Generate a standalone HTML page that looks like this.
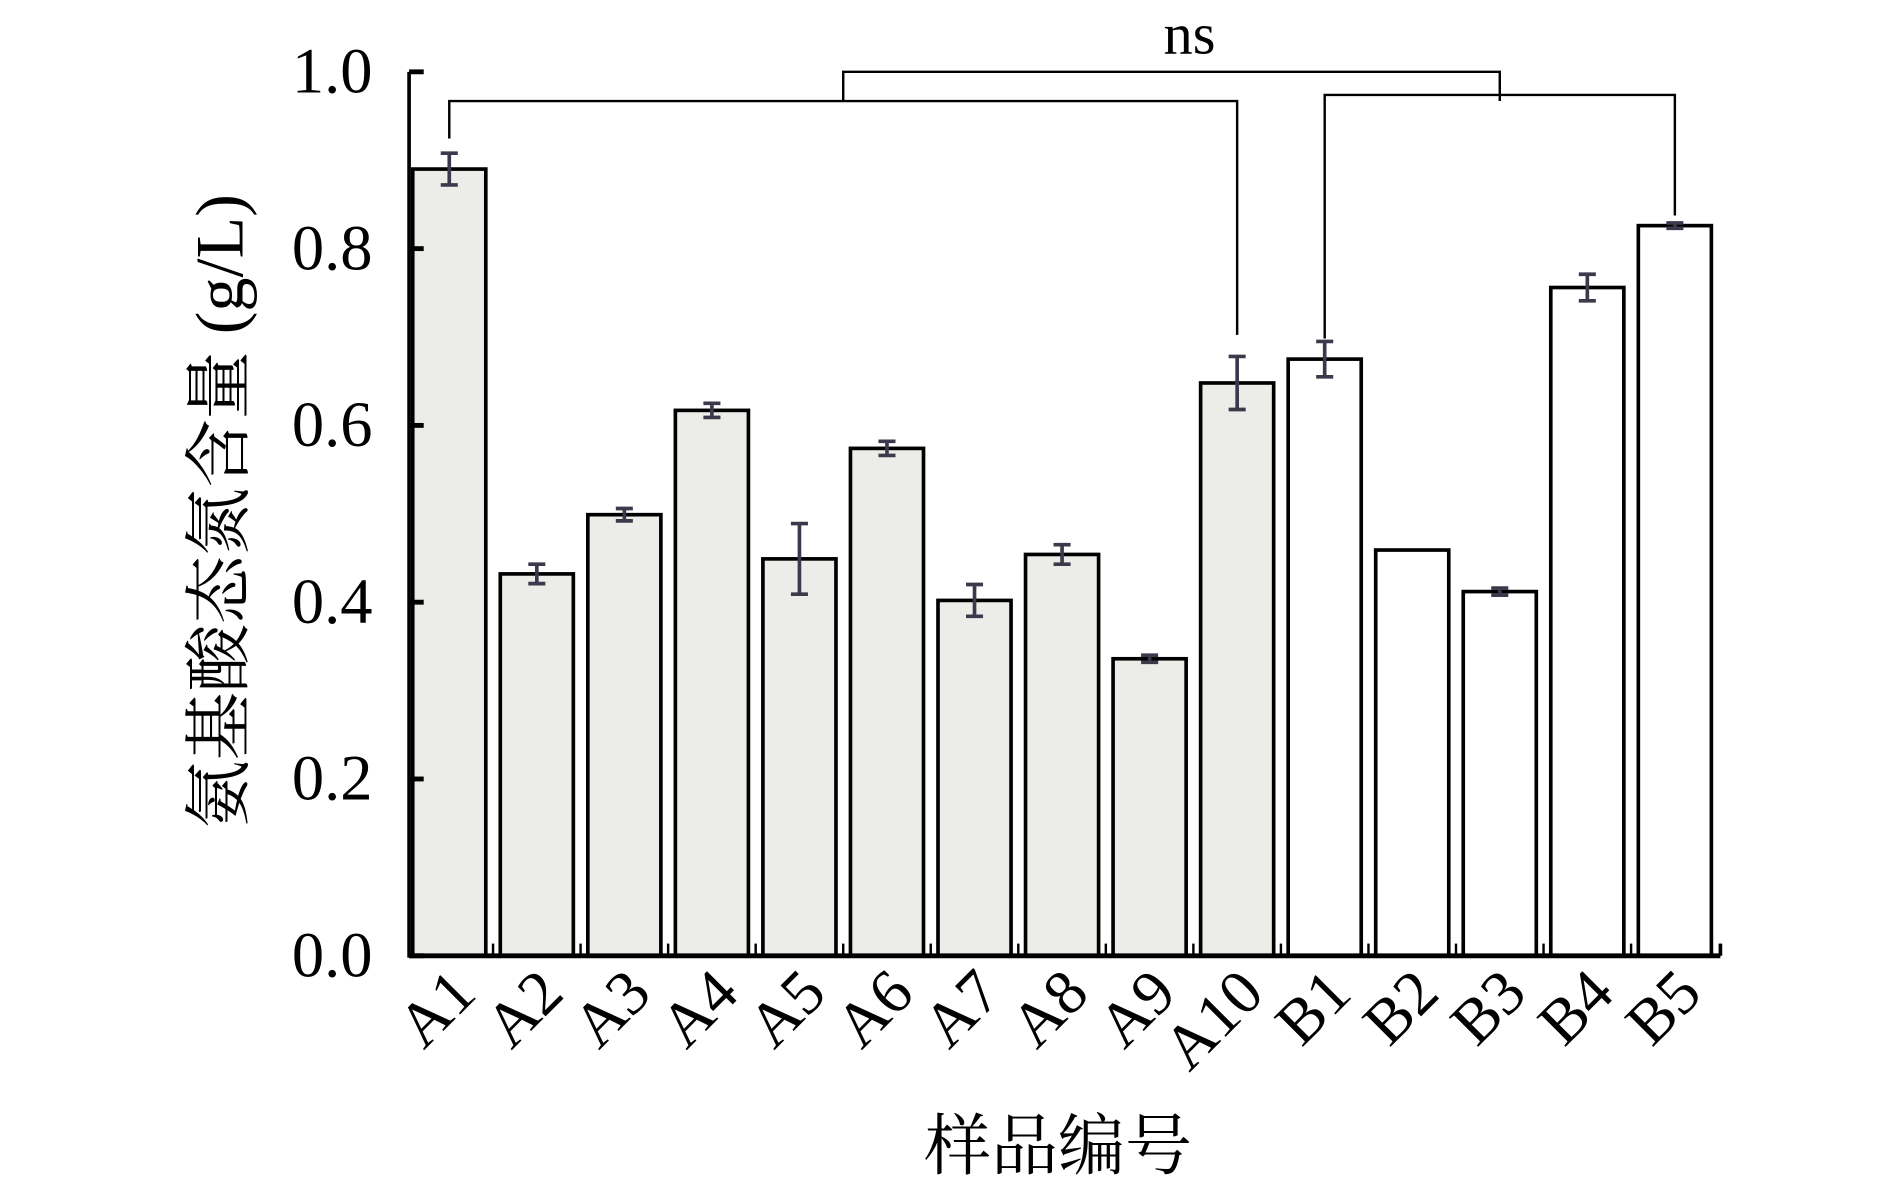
<!DOCTYPE html>
<html><head><meta charset="utf-8"><style>
html,body{margin:0;padding:0;background:#fff;width:1890px;height:1181px;overflow:hidden}
svg{display:block}
text{font-family:"Liberation Serif","Noto Serif CJK SC",serif;fill:#000}
</style></head><body>
<svg id="chart" width="1890" height="1181" viewBox="0 0 1552.3 970" preserveAspectRatio="none" xmlns="http://www.w3.org/2000/svg"></svg>
<script>
const categories=["A1","A2","A3","A4","A5","A6","A7","A8","A9","A10","B1","B2","B3","B4","B5"];
const values=[0.890,0.432,0.499,0.617,0.449,0.574,0.402,0.454,0.336,0.648,0.675,0.459,0.412,0.756,0.826];
const errors=[0.018,0.011,0.007,0.008,0.040,0.008,0.018,0.011,0.004,0.030,0.020,0.000,0.004,0.015,0.003];
const groups=["A","A","A","A","A","A","A","A","A","A","B","B","B","B","B"];
const yTicks=[0.0,0.2,0.4,0.6,0.8,1.0];
const yTickLabels=["0.0","0.2","0.4","0.6","0.8","1.0"];

const NS="http://www.w3.org/2000/svg";
const svg=document.getElementById('chart');
const x0=336,x1=1413,yBase=785,yTop=59,firstC=369,pitch=71.9,bw=60;
const yS=v=>yBase-(v-0)/(1.0-0)*(yBase-yTop);
const xS=i=>firstC+i*pitch;
function el(tag,attrs,parent){const e=document.createElementNS(NS,tag);for(const k in attrs)e.setAttribute(k,attrs[k]);(parent||svg).appendChild(e);return e;}

categories.forEach((c,i)=>{
  const b=el('rect',{x:xS(i)-bw/2,y:yS(values[i]),width:bw,height:yBase-yS(values[i]),fill:groups[i]==="A"?"#ecece8":"#fff",stroke:"#000","stroke-width":3});
  
  
  if(errors[i]>0){
    const g=el('g',{stroke:"#3a3a4c","stroke-width":3});
    
    
    const yh=yS(values[i]+errors[i]),yl=yS(values[i]-errors[i]);
    el('line',{x1:xS(i),x2:xS(i),y1:yh,y2:yl},g);
    el('line',{x1:xS(i)-7,x2:xS(i)+7,y1:yh,y2:yh},g);
    el('line',{x1:xS(i)-7,x2:xS(i)+7,y1:yl,y2:yl},g);
  }
  const t=el('text',{x:0,y:0,"font-size":52,"text-anchor":"end",transform:`translate(${xS(i)+24},${818}) rotate(-45)`});
  t.textContent=c;
  
  
  if(i>0){el('line',{x1:xS(i)-pitch/2,x2:xS(i)-pitch/2,y1:yBase,y2:yBase-10,stroke:"#000","stroke-width":2});}
});

const ax=el('g',{stroke:"#000","stroke-width":3,fill:"none"});


el('line',{x1:x0,x2:x0,y1:yTop,y2:yBase+1.5},ax);
el('line',{x1:x0,x2:x1,y1:yBase,y2:yBase,"stroke-width":4},ax);
el('line',{x1:x1,x2:x1,y1:yBase,y2:yBase-10},ax);
yTicks.forEach((v,k)=>{
  el('line',{x1:x0,x2:x0+12,y1:yS(v),y2:yS(v),"stroke-width":4},ax);
  const t=el('text',{x:306,y:yS(v)+17,"font-size":53,"text-anchor":"end"});
  t.textContent=yTickLabels[k];
  
  
});

const br=el('g',{stroke:"#000","stroke-width":2,fill:"none"});


el('polyline',{points:`${xS(0)},${yS(values[0]+errors[0])-12} ${xS(0)},83 ${xS(9)},83 ${xS(9)},275`},br);
el('polyline',{points:`${xS(10)},278 ${xS(10)},78 ${xS(14)},78 ${xS(14)},177`},br);
el('polyline',{points:`${(xS(0)+xS(9))/2},83 ${(xS(0)+xS(9))/2},59 ${(xS(10)+xS(14))/2},59 ${(xS(10)+xS(14))/2},83`},br);
const ns=el('text',{x:977,y:44,"font-size":48,"text-anchor":"middle"});
ns.textContent="ns";



const yt=el('text',{x:0,y:0,"font-size":56,"text-anchor":"middle",transform:"translate(199,420) rotate(-90)"});
yt.textContent="氨基酸态氮含量 (g/L)";


const xt=el('text',{x:869,y:960,"font-size":55,"text-anchor":"middle"});
xt.textContent="样品编号";


</script>
</body></html>
